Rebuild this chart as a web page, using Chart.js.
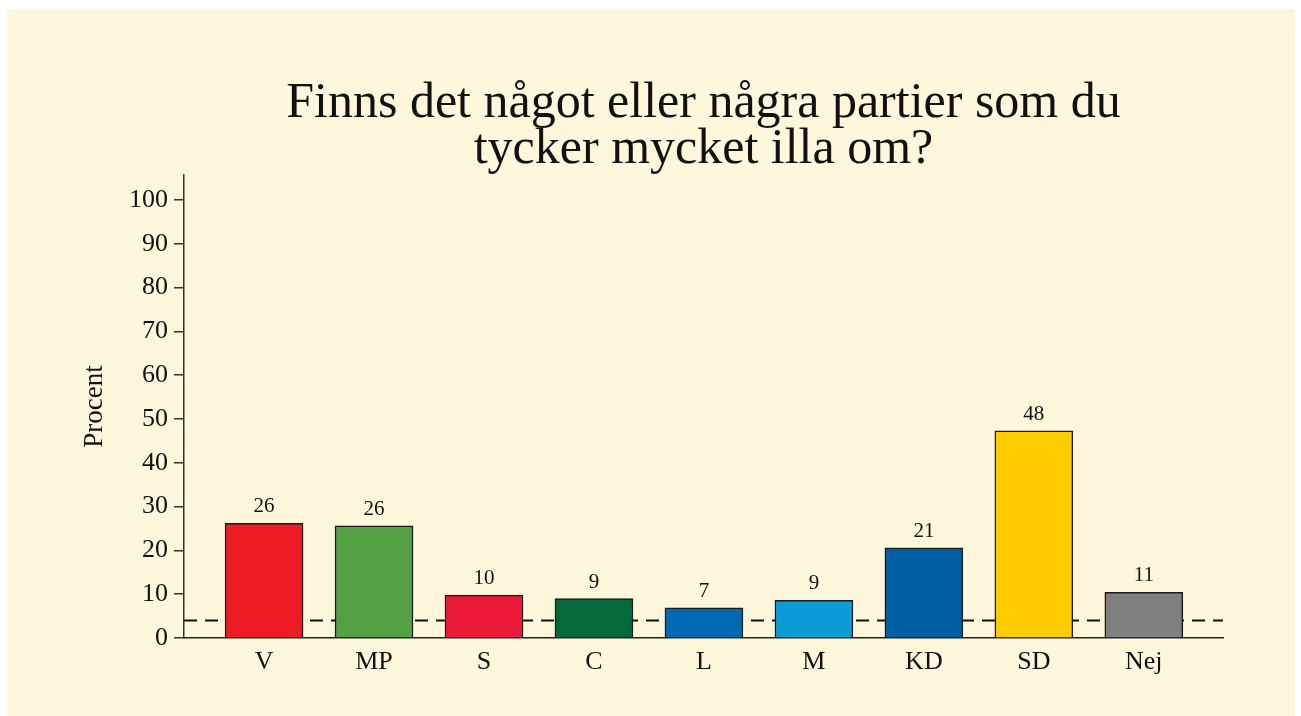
<!DOCTYPE html>
<html><head><meta charset="utf-8">
<script src="https://cdn.jsdelivr.net/npm/chart.js@4.4.1/dist/chart.umd.min.js"></script>
<style>
html,body{margin:0;padding:0;background:#fff;}
#wrap{position:absolute;left:7px;top:9px;width:1288px;height:707px;background:#FFF7DC;}
canvas{display:block;}
</style></head><body>
<div id="wrap"><canvas id="c" width="1288" height="707"></canvas></div>
<script>
// ---- data ----
const categories = ['V', 'MP', 'S', 'C', 'L', 'M', 'KD', 'SD', 'Nej'];
const values = [26.2, 25.6, 9.8, 9.0, 6.9, 8.6, 20.6, 47.3, 10.4];
const valueLabels = ['26', '26', '10', '9', '7', '9', '21', '48', '11'];
const barColors = ['#ED1C24', '#53A045', '#EE1A3A', '#03693A', '#0069B4', '#0E9BD8', '#005FA2', '#FFCC00', '#808080'];
const yTicks = [0, 10, 20, 30, 40, 50, 60, 70, 80, 90, 100];
const threshold = 4;
const titleLines = ['Finns det något eller några partier som du', 'tycker mycket illa om?'];
const yTitle = 'Procent';

const FONT = '"Liberation Serif", "Times New Roman", serif';
const INK = '#111';
const xMin = -0.728, xMax = 8.72;

const valueLabelPlugin = {
  id: 'valueLabels',
  afterDatasetsDraw(chart) {
    const ctx = chart.ctx;
    const meta = chart.getDatasetMeta(0);
    ctx.save();
    ctx.font = '21px ' + FONT;
    ctx.fillStyle = INK;
    ctx.textAlign = 'center';
    ctx.textBaseline = 'alphabetic';
    meta.data.forEach((bar, i) => {
      ctx.fillText(valueLabels[i], bar.x, bar.y - 11);
    });
    ctx.restore();
  }
};

new Chart(document.getElementById('c'), {
  type: 'bar',
  data: {
    datasets: [
      {
        type: 'bar',
        data: values.map((v, i) => ({ x: i, y: v })),
        backgroundColor: barColors,
        borderColor: '#1a1a1a',
        borderWidth: 1.5,
        barThickness: 78,
        order: 1
      },
      {
        type: 'line',
        data: [{ x: xMin, y: threshold }, { x: xMax, y: threshold }],
        borderColor: '#111',
        borderWidth: 2,
        borderDash: [13, 8],
        pointRadius: 0,
        fill: false,
        order: 2
      }
    ]
  },
  plugins: [valueLabelPlugin],
  options: {
    responsive: false,
    animation: false,
    devicePixelRatio: 1,
    layout: { padding: { left: 0, right: 72, top: 0, bottom: 28 } },
    plugins: {
      legend: { display: false },
      tooltip: { enabled: false },
      title: {
        display: true,
        text: titleLines,
        fullSize: false,
        color: INK,
        font: { family: FONT, size: 50, weight: 'normal', lineHeight: 46 / 50 },
        padding: { top: 72, bottom: 2 }
      }
    },
    scales: {
      x: {
        type: 'linear',
        min: xMin,
        max: xMax,
        offset: false,
        afterBuildTicks: s => { s.ticks = categories.map((c, i) => ({ value: i })); },
        afterFit: s => { s.height = 50; },
        grid: { display: true, drawOnChartArea: false, drawTicks: false, offset: false },
        border: { display: true, color: '#222', width: 1.5 },
        ticks: {
          padding: 9, autoSkip: false, maxRotation: 0, minRotation: 0,
          color: INK,
          font: { family: FONT, size: 26 },
          callback: v => categories[v]
        }
      },
      y: {
        min: 0,
        max: 105.7,
        afterBuildTicks: s => { s.ticks = yTicks.map(v => ({ value: v })); },
        afterFit: s => { s.width = 177; },
        grid: { drawOnChartArea: false, drawTicks: true, tickLength: 10, color: '#333', lineWidth: 1.5 },
        border: { display: true, color: '#333', width: 1.5 },
        ticks: { padding: 6, color: INK, font: { family: FONT, size: 26 } },
        title: {
          display: true, text: yTitle, color: INK,
          font: { family: FONT, size: 27 },
          padding: { top: 72, bottom: 0 }
        }
      }
    }
  }
});
</script>
</body></html>
